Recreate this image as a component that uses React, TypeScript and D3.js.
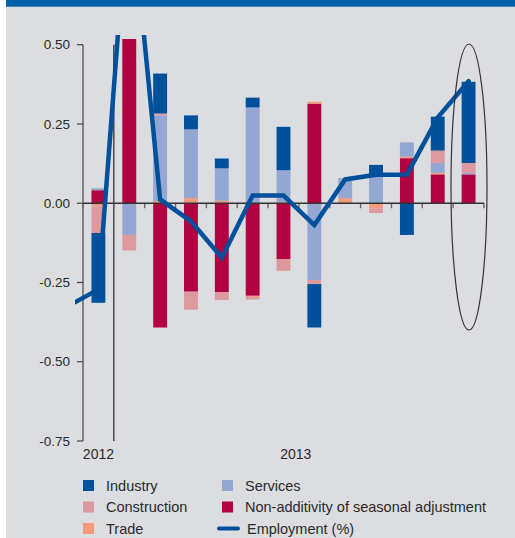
import React from "react";
import * as d3 from "d3";

const W = 515;
const H = 538;

const categories = ["P01", "P02", "P03", "P04", "P05", "P06", "P07", "P08", "P09", "P10", "P11", "P12", "P13"];
const industry = [-0.22, 0, 0.126, 0.044, 0.031, 0.031, 0.137, -0.137, 0, 0.031, -0.1, 0.107, 0.256];
const services = [0.006, -0.1, 0.27, 0.217, 0.102, 0.302, 0.1, -0.242, 0.063, 0.09, 0.045, 0.031, 0.005];
const construction = [-0.084, -0.049, 0.006, -0.057, -0.025, -0.008, -0.037, -0.013, 0, -0.014, 0, 0.039, 0.031];
const nonAdditivity = [0.041, 0.518, -0.392, -0.279, -0.28, -0.292, -0.176, 0.314, 0, 0, 0.142, 0.091, 0.091];
const trade = [-0.01, 0, 0.007, 0.016, 0.008, -0.004, 0.004, 0.006, 0.016, -0.017, 0.005, 0.005, 0];
// employment: first value belongs to the period before P01 (line enters from the left)
const employment = [-0.325, -0.272, 1.0, 0.012, -0.057, -0.172, 0.024, 0.024, -0.069, 0.075, 0.09, 0.09, 0.27, 0.385];

const yTicks = [0.5, 0.25, 0, -0.25, -0.5, -0.75];
const yearLabels = ["2012", "2013"];
const yearLabelSteps = [0.5, 6.9];

const keys = ["nonadd", "trade", "services", "construction", "industry"];
const colors: Record<string, string> = {
  industry: "#00509b",
  services: "#93a7d2",
  construction: "#dc9a9e",
  nonadd: "#b00340",
  trade: "#f49a7c",
};
const lineColor = "#00509b";

const legendItems = [
  { key: "industry", label: "Industry", col: 0, row: 0 },
  { key: "services", label: "Services", col: 1, row: 0 },
  { key: "construction", label: "Construction", col: 0, row: 1 },
  { key: "nonadd", label: "Non-additivity of seasonal adjustment", col: 1, row: 1 },
  { key: "trade", label: "Trade", col: 0, row: 2 },
  { key: "employment", label: "Employment (%)", col: 1, row: 2 },
];

const FONT = "'Liberation Sans', Arial, sans-serif";
const TEXT = "#2a2a2a";

export default function App() {
  const rows = categories.map((c, i) => ({
    cat: c,
    industry: industry[i],
    services: services[i],
    construction: construction[i],
    nonadd: nonAdditivity[i],
    trade: trade[i],
  }));

  const x = d3
    .scaleBand<string>()
    .domain(categories)
    .range([83, 484])
    .paddingInner(0.55)
    .paddingOuter(0.275);
  const y = d3.scaleLinear().domain([-0.75, 0.5]).range([441, 44.7]);
  const step = x.step();
  const bw = x.bandwidth();
  const x0 = 83;

  const series = d3
    .stack<any>()
    .keys(keys)
    .offset(d3.stackOffsetDiverging)(rows);

  const cx = (i: number) => x(categories[0])! + bw / 2 + (i - 1) * step;
  const lineGen = d3
    .line<number>()
    .x((_, i) => cx(i))
    .y((d) => y(d));

  const tickXs = d3.range(categories.length + 1).map((i) => x0 + i * step);

  const legendColX = [83, 222];
  const legendRowY = [485.5, 507, 528.5];

  return (
    <svg width={W} height={H} style={{ position: "absolute", left: 0, top: 0 }}>
      <defs>
        <clipPath id="plotclip">
          <rect x={75} y={35} width={W - 75} height={H - 35} />
        </clipPath>
      </defs>
      <rect x={6} y={0} width={W - 6} height={H} fill="#dcdde0" />
      <rect x={6} y={0} width={W - 6} height={6.7} fill="#0061ab" />

      {/* bars */}
      {series.map((s) => (
        <g key={s.key} fill={colors[s.key]}>
          {s.map((d, i) => {
            const top = y(Math.max(d[0], d[1]));
            const bot = y(Math.min(d[0], d[1]));
            if (bot - top <= 0.01) return null;
            return <rect key={i} x={x(categories[i])} y={top} width={bw} height={bot - top} />;
          })}
        </g>
      ))}

      {/* year separator */}
      <line x1={tickXs[1]} x2={tickXs[1]} y1={y(0.5)} y2={y(-0.75)} stroke="#222" strokeWidth={1.2} />

      {/* y axis */}
      <line x1={x0} x2={x0} y1={y(0.5)} y2={y(-0.75)} stroke="#444" strokeWidth={1.2} />
      {yTicks.map((t) => (
        <g key={t}>
          <line x1={x0 - 6} x2={x0} y1={y(t)} y2={y(t)} stroke="#444" strokeWidth={1.2} />
          <text
            x={70}
            y={y(t)}
            dy="0.35em"
            textAnchor="end"
            fontFamily={FONT}
            fontSize={13.5}
            fill={TEXT}
          >
            {t.toFixed(2)}
          </text>
        </g>
      ))}

      {/* zero line and ticks */}
      {tickXs.map((tx, i) => (
        <line key={i} x1={tx} x2={tx} y1={y(0)} y2={y(0) + 5} stroke="#666" strokeWidth={1.4} />
      ))}
      <line x1={x0} x2={tickXs[tickXs.length - 1]} y1={y(0)} y2={y(0)} stroke="#333" strokeWidth={1.4} />

      {/* year labels */}
      {yearLabels.map((l, i) => (
        <text
          key={l}
          x={x0 + yearLabelSteps[i] * step}
          y={459}
          textAnchor="middle"
          fontFamily={FONT}
          fontSize={14}
          fill={TEXT}
        >
          {l}
        </text>
      ))}

      {/* employment line */}
      <g clipPath="url(#plotclip)">
        <path
          d={lineGen(employment) || ""}
          fill="none"
          stroke={lineColor}
          strokeWidth={4.5}
          strokeLinecap="round"
        />
      </g>

      {/* highlight ellipse */}
      <ellipse cx={469} cy={187} rx={18} ry={143} fill="none" stroke="#333" strokeWidth={1.2} />

      {/* legend */}
      {legendItems.map((it) => {
        const lx = legendColX[it.col];
        const ly = legendRowY[it.row];
        return (
          <g key={it.key}>
            {it.key === "employment" ? (
              <line
                x1={lx - 3}
                x2={lx + 16}
                y1={ly}
                y2={ly}
                stroke={lineColor}
                strokeWidth={4}
                strokeLinecap="round"
              />
            ) : (
              <rect x={lx} y={ly - 5.5} width={11} height={11} fill={colors[it.key]} />
            )}
            <text
              x={it.key === "employment" ? lx + 25 : lx + 23}
              y={ly}
              dy="0.36em"
              fontFamily={FONT}
              fontSize={14.5}
              fill={TEXT}
            >
              {it.label}
            </text>
          </g>
        );
      })}
    </svg>
  );
}
